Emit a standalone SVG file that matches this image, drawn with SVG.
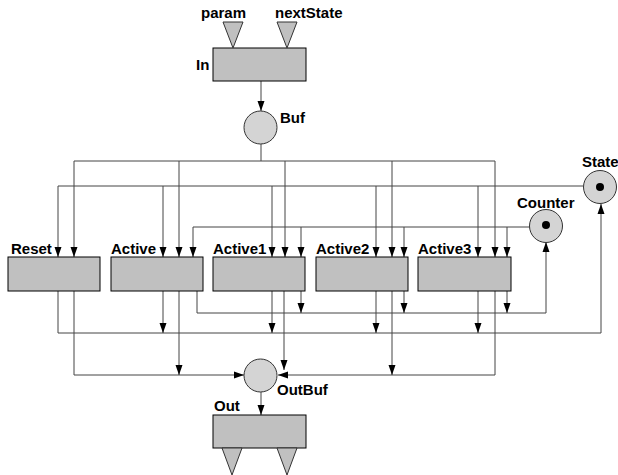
<svg xmlns="http://www.w3.org/2000/svg" width="618" height="475" viewBox="0 0 618 475">
<style>
.box{fill:#c0c0c0;stroke:#000;stroke-width:1}
.circ{fill:#d4d4d4;stroke:#333;stroke-width:1}
.tri{fill:#c0c0c0;stroke:#333;stroke-width:1}
.dot{fill:#000}
.c{fill:none;stroke:#444;stroke-width:1}
.a{fill:none;stroke:#444;stroke-width:1;marker-end:url(#ah)}
text{font-family:"Liberation Sans",Arial,sans-serif;font-weight:bold;font-size:15px;fill:#000}
</style>
<defs>
<marker id="ah" markerUnits="userSpaceOnUse" markerWidth="10" markerHeight="8" refX="10" refY="4" orient="auto">
<path d="M0,0.5 L10,4 L0,7.5 z" fill="#000"/>
</marker>
</defs>
<g id="connectors">
<path class="a" d="M261,81 V111"/>
<path class="c" d="M261,144 V161 M74,161 H495"/>
<path class="a" d="M74,161 V257"/>
<path class="a" d="M179,161 V257"/>
<path class="a" d="M285,161 V257"/>
<path class="a" d="M392,161 V257"/>
<path class="a" d="M495,161 V257"/>
<path class="c" d="M58,186 H583"/>
<path class="a" d="M58,186 V257"/>
<path class="a" d="M163,186 V257"/>
<path class="a" d="M272,186 V257"/>
<path class="a" d="M376,186 V257"/>
<path class="a" d="M478,186 V257"/>
<path class="c" d="M193,227 H530"/>
<path class="a" d="M193,227 V257"/>
<path class="a" d="M301,227 V257"/>
<path class="a" d="M404,227 V257"/>
<path class="a" d="M507,227 V257"/>
<path class="a" d="M58,291 V333 H601 V204"/>
<path class="a" d="M163,291 V333"/>
<path class="a" d="M272,291 V333"/>
<path class="a" d="M376,291 V333"/>
<path class="a" d="M478,291 V333"/>
<path class="a" d="M197,291 V313 H546 V242"/>
<path class="a" d="M301,291 V313"/>
<path class="a" d="M404,291 V313"/>
<path class="a" d="M507,291 V313"/>
<path class="a" d="M74,291 V375 H244"/>
<path class="a" d="M179,291 V375"/>
<path class="a" d="M495,291 V375 H278"/>
<path class="a" d="M392,291 V375"/>
<path class="a" d="M284,291 V370"/>
<path class="a" d="M261,392 V415"/>
</g>
<g id="In">
<rect class="box" x="213" y="48" width="93" height="33"/>
<polygon class="tri" points="223,22 243,22 233,48"/>
<polygon class="tri" points="277,22 297,22 287,48"/>
<text x="201" y="18">param</text>
<text x="275" y="18">nextState</text>
<text x="196" y="70">In</text>
</g>
<g id="Buf">
<circle class="circ" cx="260.5" cy="127.5" r="16.5"/>
<text x="280" y="123">Buf</text>
</g>
<g id="State">
<circle class="circ" cx="600" cy="187" r="16.5"/>
<circle class="dot" cx="600" cy="187" r="4"/>
<text x="582" y="167">State</text>
</g>
<g id="Counter">
<circle class="circ" cx="546" cy="226" r="16.5"/>
<circle class="dot" cx="546" cy="225" r="4"/>
<text x="517" y="208">Counter</text>
</g>
<g id="Reset">
<rect class="box" x="8" y="257" width="92" height="34"/>
<text x="11" y="254">Reset</text>
</g>
<g id="Active">
<rect class="box" x="111" y="257" width="92" height="34"/>
<text x="111" y="254">Active</text>
</g>
<g id="Active1">
<rect class="box" x="213" y="257" width="92" height="34"/>
<text x="213" y="254">Active1</text>
</g>
<g id="Active2">
<rect class="box" x="316" y="257" width="92" height="34"/>
<text x="316" y="254">Active2</text>
</g>
<g id="Active3">
<rect class="box" x="418" y="257" width="93" height="34"/>
<text x="418" y="254">Active3</text>
</g>
<g id="OutBuf">
<circle class="circ" cx="260.5" cy="375.5" r="16.5"/>
<text x="277" y="395">OutBuf</text>
</g>
<g id="Out">
<rect class="box" x="213" y="415" width="93" height="33"/>
<polygon class="tri" points="222,448 242,448 232,475"/>
<polygon class="tri" points="277,448 297,448 287,475"/>
<text x="214" y="411">Out</text>
</g>
</svg>
